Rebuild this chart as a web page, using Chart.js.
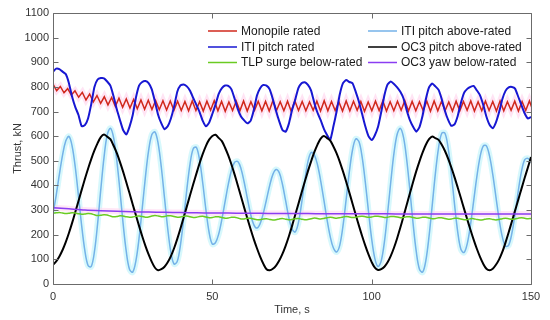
<!DOCTYPE html>
<html>
<head>
<meta charset="utf-8">
<script src="https://cdn.jsdelivr.net/npm/chart.js@4/dist/chart.umd.min.js"></script>
<style>
html,body{margin:0;padding:0;background:#ffffff;}
#wrap{width:550px;height:320px;}
</style>
</head>
<body>
<div id="wrap"><canvas id="c" width="550" height="320"></canvas></div>
<script>
// ---------------- data ----------------
const seriesNames = [
  "Monopile rated", "ITI pitch rated", "TLP surge below-rated",
  "ITI pitch above-rated", "OC3 pitch above-rated", "OC3 yaw below-rated"
];
const xTickValues = [0, 50, 100, 150];
const yTickValues = [0, 100, 200, 300, 400, 500, 600, 700, 800, 900, 1000, 1100];

// time step (s) between successive samples of each series
const monopileStep = 1.15;
const itiRatedStep = 1;
const itiAboveStep = 1;
const oc3PitchStep = 1;
const tlpStep = 1;
const oc3YawStep = 5;

const monopileRated = [
  811,785, 802,776, 793,767, 784,758, 778,747, 771,739, 765,733, 760,727, 757,721, 754,717,
  751,714, 749,711, 747,709, 746,708, 745,707, 744,706, 743,705, 742,704,
  741,703, 743,704, 740,702, 742,705, 744,703, 741,701, 739,704, 742,703, 743,702, 740,705,
  742,703, 741,702, 744,704, 740,703, 742,701, 743,704, 741,703, 739,705, 742,702, 744,703,
  741,704, 740,702, 743,703, 742,705, 741,701, 739,703, 742,704, 743,702, 740,703, 742,705,
  744,702, 741,703, 740,704, 742,701, 743,703, 741,704, 739,702, 742,703, 741,705, 743,702,
  740,703, 742,704, 741,702, 743,703, 740,705, 742,702, 741,704, 743,703
];

const itiPitchRated = [
  862,874,872,862,852,815,760,718,686,640,
  645,672,730,800,830,836,835,822,805,762,
  710,666,625,607,638,685,755,805,820,824,
  815,790,740,686,652,628,640,672,720,780,
  806,810,802,784,755,727,698,662,640,655,
  690,728,772,795,806,804,790,752,710,680,
  664,652,662,705,765,795,808,805,790,750,
  702,660,625,618,650,705,748,795,815,819,
  808,785,735,695,665,630,605,585,640,700,
  770,815,828,820,815,780,740,690,640,600,
  584,604,638,698,766,810,822,812,798,780,
  753,705,665,638,618,637,685,750,798,814,
  802,788,750,702,666,642,648,682,735,776,
  792,800,804,786,766,728,680,646,632,656,
  698,750,784,798,800,793,760,726,693,672,
  678
];

const itiPitchAboveRated = [
  285,360,445,523,580,599,560,473,357,236,
  135,75,71,131,245,384,513,604,632,595,
  504,380,245,131,60,48,93,185,307,434,
  541,606,617,570,473,349,225,128,81,92,
  159,265,384,487,549,555,503,409,300,209,
  162,168,203,263,334,404,462,494,497,468,
  413,347,284,241,227,245,287,343,400,445,
  465,452,405,338,270,223,211,248,326,419,
  497,534,524,484,419,341,261,192,146,130,
  158,236,344,456,545,589,578,516,414,295,
  183,103,71,94,171,287,415,531,608,632,
  595,504,380,245,131,60,48,95,193,319,
  449,554,612,612,552,447,324,212,141,128,
  164,239,336,435,515,560,561,519,445,353,
  262,191,153,158,206,285,377,456,504,510,
  495
];

const oc3PitchAboveRated = [
  78,92,112,138,170,207,248,292,337,382,
  426,468,507,542,572,596,607,598,588,562,
  532,496,456,413,369,324,280,236,194,155,
  120,90,66,56,60,70,88,113,145,183,
  225,270,315,360,405,448,490,528,561,586,
  601,606,593,580,553,522,485,444,400,355,
  310,266,223,182,145,111,82,60,56,62,
  75,95,122,155,193,235,280,325,370,415,
  458,498,535,566,590,601,592,582,558,530,
  496,457,415,371,326,281,237,195,156,120,
  89,66,57,60,70,88,114,147,186,229,
  275,322,368,414,458,498,534,565,588,599,
  592,585,565,540,509,473,434,392,349,305,
  262,220,180,143,110,82,62,56,62,78,
  100,130,168,210,254,298,342,386,430,472,
  515
];

const tlpSurgeBelowRated = [
  288,289,290,288,286,287,289,288,285,283,
  284,286,285,281,278,279,281,280,276,273,
  274,277,276,273,271,272,275,276,274,271,
  272,276,278,276,273,274,277,277,274,271,
  272,275,276,273,270,271,274,275,272,269,
  270,273,273,270,267,268,271,271,268,264,
  264,267,267,264,261,261,264,265,262,260,
  261,264,266,263,261,262,265,266,263,261,
  262,265,268,266,264,266,269,271,269,267,
  269,272,274,272,270,271,274,275,273,271,
  272,275,275,273,270,271,274,274,272,269,
  270,273,273,270,267,268,271,271,268,265,
  266,269,269,266,263,264,267,267,264,261,
  262,265,265,262,260,261,264,265,262,260,
  262,265,267,265,263,264,267,269,267,265,
  266
];

const oc3YawBelowRated = [
  310,305,300,297,295,293,292,291,290,289,
  288,288,287,287,286,286,286,285,285,285,
  285,285,284,284,284,284,284,284,284,284,
  284
];

// ---------------- build ----------------
function toPoints(values, step) {
  return values.map((v, i) => ({ x: Math.round(i * step * 1000) / 1000, y: v }));
}

const colors = {
  "Monopile rated": "#d0281c",
  "ITI pitch rated": "#1717d2",
  "TLP surge below-rated": "#6acb22",
  "ITI pitch above-rated": "#74b2e8",
  "OC3 pitch above-rated": "#000000",
  "OC3 yaw below-rated": "#8b3df2"
};
const widths = {
  "Monopile rated": 1.5,
  "ITI pitch rated": 2,
  "TLP surge below-rated": 1.5,
  "ITI pitch above-rated": 1.5,
  "OC3 pitch above-rated": 2,
  "OC3 yaw below-rated": 1.5
};
const halos = {
  "Monopile rated": "rgba(255,205,235,0.55)",
  "ITI pitch above-rated": "rgba(175,242,250,0.5)",
  "OC3 yaw below-rated": "rgba(255,215,240,0.6)"
};

function ds(name, values, step, tension) {
  return {
    label: name,
    data: toPoints(values, step),
    borderColor: colors[name],
    backgroundColor: colors[name],
    borderWidth: widths[name],
    pointRadius: 0,
    tension: tension,
    fill: false
  };
}
function halo(name, values, step, tension, w) {
  return {
    label: name + " (halo)",
    data: toPoints(values, step),
    borderColor: halos[name],
    borderWidth: w,
    pointRadius: 0,
    tension: tension,
    fill: false
  };
}

// dataset 0 is drawn on top in Chart.js
const datasets = [
  ds("OC3 yaw below-rated", oc3YawBelowRated, oc3YawStep, 0.3),
  ds("TLP surge below-rated", tlpSurgeBelowRated, tlpStep, 0.3),
  ds("OC3 pitch above-rated", oc3PitchAboveRated, oc3PitchStep, 0.3),
  ds("ITI pitch rated", itiPitchRated, itiRatedStep, 0.15),
  ds("Monopile rated", monopileRated, monopileStep, 0),
  ds("ITI pitch above-rated", itiPitchAboveRated, itiAboveStep, 0.35),
  halo("OC3 yaw below-rated", oc3YawBelowRated, oc3YawStep, 0.3, 6),
  halo("Monopile rated", monopileRated, monopileStep, 0, 6),
  halo("ITI pitch above-rated", itiPitchAboveRated, itiAboveStep, 0.35, 6)
];

const FONT = "'Liberation Sans', Arial, Helvetica, sans-serif";

const framePlugin = {
  id: 'frame',
  afterDatasetsDraw(chart) {
    const { ctx, chartArea: a, scales } = chart;
    ctx.save();
    ctx.strokeStyle = '#6b6b6b';
    ctx.lineWidth = 1;
    const L = Math.round(a.left) + 0.5, R = Math.round(a.right) + 0.5;
    const T = Math.round(a.top) + 0.5, B = Math.round(a.bottom) + 0.5;
    ctx.beginPath();
    ctx.rect(L, T, R - L, B - T);
    const tl = 5;
    xTickValues.forEach(v => {
      const x = Math.round(scales.x.getPixelForValue(v)) + 0.5;
      ctx.moveTo(x, B); ctx.lineTo(x, B - tl);
      ctx.moveTo(x, T); ctx.lineTo(x, T + tl);
    });
    yTickValues.forEach(v => {
      const y = Math.round(scales.y.getPixelForValue(v)) + 0.5;
      ctx.moveTo(L, y); ctx.lineTo(L + tl, y);
      ctx.moveTo(R, y); ctx.lineTo(R - tl, y);
    });
    ctx.stroke();
    ctx.restore();
  }
};

const legendPlugin = {
  id: 'innerLegend',
  afterDatasetsDraw(chart) {
    const { ctx } = chart;
    const cols = [
      { x1: 208, x2: 237, tx: 241 },
      { x1: 368, x2: 397, tx: 401 }
    ];
    const rows = [31, 47, 62.5];
    ctx.save();
    ctx.font = "12px " + FONT;
    ctx.textBaseline = 'middle';
    ctx.textAlign = 'left';
    seriesNames.forEach((name, i) => {
      const c = cols[Math.floor(i / 3)];
      const y = rows[i % 3];
      const d = chart.data.datasets.find(s => s.label === name);
      ctx.strokeStyle = d.borderColor;
      ctx.lineWidth = 1.5;
      ctx.beginPath();
      ctx.moveTo(c.x1, y); ctx.lineTo(c.x2, y);
      ctx.stroke();
      ctx.fillStyle = '#1a1a1a';
      ctx.fillText(name, c.tx, y + 0.5);
    });
    ctx.restore();
  }
};

new Chart(document.getElementById('c'), {
  type: 'line',
  data: { datasets },
  options: {
    responsive: false,
    animation: false,
    devicePixelRatio: 1,
    layout: { padding: { top: 13, right: 19, left: 0, bottom: 0 } },
    plugins: { legend: { display: false }, tooltip: { enabled: false } },
    scales: {
      x: {
        type: 'linear', min: 0, max: 150,
        afterBuildTicks(s) { s.ticks = xTickValues.map(v => ({ value: v })); },
        afterFit(s) { s.height = 36; },
        ticks: { font: { family: FONT, size: 11 }, color: '#333', padding: 6, maxRotation: 0, autoSkip: false,
                 callback: v => String(v) },
        grid: { display: false, drawTicks: false },
        border: { display: false },
        title: { display: true, text: 'Time, s', color: '#333', font: { family: FONT, size: 11 }, padding: { top: 0, bottom: 3 } }
      },
      y: {
        min: 0, max: 1100,
        afterBuildTicks(s) { s.ticks = yTickValues.map(v => ({ value: v })); },
        afterFit(s) { s.width = 53; },
        ticks: { font: { family: FONT, size: 11 }, color: '#333', padding: 4, autoSkip: false,
                 callback: v => String(v) },
        grid: { display: false, drawTicks: false },
        border: { display: false },
        title: { display: true, text: 'Thrust, kN', color: '#333', font: { family: FONT, size: 11 }, padding: { top: 11, bottom: 0 } }
      }
    }
  },
  plugins: [framePlugin, legendPlugin]
});
</script>
</body>
</html>
